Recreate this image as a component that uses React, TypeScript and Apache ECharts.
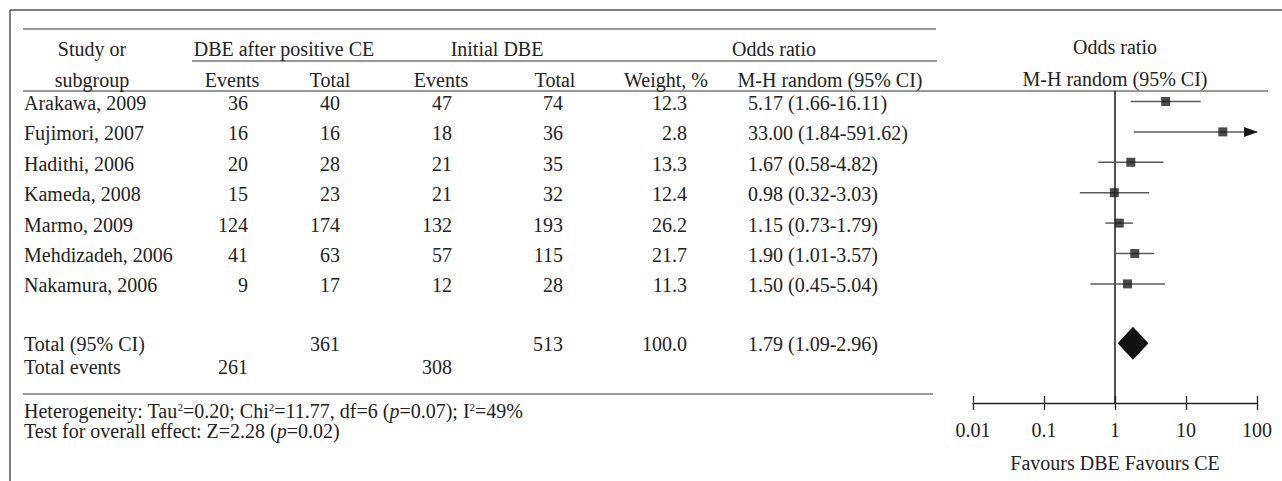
import React, { useEffect, useRef } from "react";
import * as echarts from "echarts";

const studies = [
  "Arakawa, 2009",
  "Fujimori, 2007",
  "Hadithi, 2006",
  "Kameda, 2008",
  "Marmo, 2009",
  "Mehdizadeh, 2006",
  "Nakamura, 2006",
];
const dbeEvents = [36, 16, 20, 15, 124, 41, 9];
const dbeTotal = [40, 16, 28, 23, 174, 63, 17];
const initEvents = [47, 18, 21, 21, 132, 57, 12];
const initTotal = [74, 36, 35, 32, 193, 115, 28];
const weights = [12.3, 2.8, 13.3, 12.4, 26.2, 21.7, 11.3];
const oddsRatio = [5.17, 33.0, 1.67, 0.98, 1.15, 1.9, 1.5];
const ciLow = [1.66, 1.84, 0.58, 0.32, 0.73, 1.01, 0.45];
const ciHigh = [16.11, 591.62, 4.82, 3.03, 1.79, 3.57, 5.04];

const totalDbe = 361;
const totalInit = 513;
const totalWeight = 100.0;
const pooledOR = 1.79;
const pooledLow = 1.09;
const pooledHigh = 2.96;
const eventsDbe = 261;
const eventsInit = 308;

const tickLabels = ["0.01", "0.1", "1", "10", "100"];
const xMin = 0.01;
const xMax = 100;

const FONT = "Liberation Serif";
const FS = 20;
const TXT = "#222";

export default function App() {
  const ref = useRef<HTMLDivElement>(null);

  useEffect(() => {
    document.body.style.margin = "0";
    const chart = echarts.init(ref.current!, null, { renderer: "svg" });

    const rowStart = 101.5;
    const rowStep = 30.4;
    const rowY = (i: number) => rowStart + rowStep * i;
    const totalPos = 7.95;
    const gridTop = 91;
    const axisY = 403;
    const yMin = (gridTop - rowStart) / rowStep;
    const yMax = (axisY - rowStart) / rowStep;

    const txt = (
      text: string,
      x: number,
      y: number,
      align: string = "center",
      extra: any = {}
    ) => ({
      type: "text",
      x,
      y,
      silent: true,
      style: {
        text,
        fontSize: FS,
        fontFamily: FONT,
        fill: TXT,
        align,
        textAlign: align,
        verticalAlign: "middle",
        textVerticalAlign: "middle",
        ...extra,
      },
    });
    const ln = (x1: number, y1: number, x2: number, y2: number, stroke = "#333", lw = 1.2) => ({
      type: "line",
      silent: true,
      shape: { x1, y1, x2, y2 },
      style: { stroke, lineWidth: lw },
    });

    const elements: any[] = [
      ln(10, 10, 1282, 10, "#555", 1.5),
      ln(10, 10, 10, 481, "#555", 1.5),
      ln(23, 29, 936, 29),
      ln(192, 61, 937, 61),
      ln(23, 91, 1268, 91),
      ln(23, 394, 933, 394),
      txt("Study or", 92, 49),
      txt("subgroup", 92, 80),
      txt("DBE after positive CE", 284, 49),
      txt("Initial DBE", 497, 49),
      txt("Odds ratio", 774, 49),
      txt("Events", 232, 80),
      txt("Total", 330, 80),
      txt("Events", 441, 80),
      txt("Total", 555, 80),
      txt("Weight, %", 666, 80),
      txt("M-H random (95% CI)", 830, 80),
      txt("Odds ratio", 1115, 47),
      txt("M-H random (95% CI)", 1115, 79),
      txt("Favours DBE Favours CE", 1115, 463),
    ];

    studies.forEach((s, i) => {
      const y = rowY(i) + 1.5;
      elements.push(txt(s, 24, y, "left"));
      elements.push(txt(String(dbeEvents[i]), 248, y, "right"));
      elements.push(txt(String(dbeTotal[i]), 340, y, "right"));
      elements.push(txt(String(initEvents[i]), 452, y, "right"));
      elements.push(txt(String(initTotal[i]), 563, y, "right"));
      elements.push(txt(weights[i].toFixed(1), 687, y, "right"));
      elements.push(
        txt(
          `${oddsRatio[i].toFixed(2)} (${ciLow[i].toFixed(2)}-${ciHigh[i].toFixed(2)})`,
          748,
          y,
          "left"
        )
      );
    });

    const ty = rowY(totalPos) + 0.5;
    elements.push(txt("Total (95% CI)", 24, ty, "left"));
    elements.push(txt(String(totalDbe), 340, ty, "right"));
    elements.push(txt(String(totalInit), 563, ty, "right"));
    elements.push(txt(totalWeight.toFixed(1), 687, ty, "right"));
    elements.push(
      txt(`${pooledOR.toFixed(2)} (${pooledLow.toFixed(2)}-${pooledHigh.toFixed(2)})`, 748, ty, "left")
    );
    const ey = 367;
    elements.push(txt("Total events", 24, ey, "left"));
    elements.push(txt(String(eventsDbe), 248, ey, "right"));
    elements.push(txt(String(eventsInit), 452, ey, "right"));

    const rich = {
      sup: { fontSize: 11, fontFamily: FONT, fill: TXT, verticalAlign: "top" },
      i: { fontSize: FS, fontFamily: FONT, fontStyle: "italic", fill: TXT },
      n: { fontSize: FS, fontFamily: FONT, fill: TXT },
    };
    elements.push(
      txt(
        "{n|Heterogeneity: Tau}{sup|2}{n|=0.20; Chi}{sup|2}{n|=11.77, df=6 (}{i|p}{n|=0.07); I}{sup|2}{n|=49%}",
        24,
        411,
        "left",
        { rich }
      )
    );
    elements.push(
      txt("{n|Test for overall effect: Z=2.28 (}{i|p}{n|=0.02)}", 24, 431, "left", { rich })
    );

    const ciData = studies.map((_, i) => [ciLow[i], ciHigh[i], i]);
    const pointData = studies.map((_, i) => [oddsRatio[i], i]);
    const diamondData = [[pooledLow, pooledOR, pooledHigh, totalPos]];

    const baseAxis = {
      type: "log",
      logBase: 10,
      min: xMin,
      max: xMax,
      position: "bottom",
      splitLine: { show: false },
      minorTick: { show: false },
    };

    const option: any = {
      animation: false,
      grid: [
        { left: 973, right: 1282 - 1257, top: gridTop, bottom: 481 - axisY, containLabel: false },
        { left: 973, right: 1282 - 1257, top: axisY - 8, bottom: 481 - axisY, containLabel: false },
      ],
      xAxis: [
        {
          ...baseAxis,
          gridIndex: 0,
          axisLine: { show: true, onZero: false, lineStyle: { color: "#222", width: 1.3 } },
          axisTick: { show: true, inside: false, length: 7, lineStyle: { color: "#222", width: 1.3 } },
          axisLabel: {
            show: true,
            margin: 17,
            color: TXT,
            fontSize: FS,
            fontFamily: FONT,
            formatter: (v: number, idx: number) => tickLabels[idx] ?? String(v),
          },
        },
        {
          ...baseAxis,
          gridIndex: 1,
          axisLine: { show: false, onZero: false },
          axisTick: { show: true, inside: true, length: 7, lineStyle: { color: "#222", width: 1.3 } },
          axisLabel: { show: false },
        },
      ],
      yAxis: [
        { type: "value", gridIndex: 0, inverse: true, min: yMin, max: yMax, show: false },
        { type: "value", gridIndex: 1, min: 0, max: 1, show: false },
      ],
      graphic: { elements },
      series: [
        {
          type: "custom",
          clip: false,
          z: 3,
          encode: { x: [0, 1], y: 2 },
          data: ciData,
          renderItem: (params: any, api: any) => {
            const lo = api.value(0);
            const hi = api.value(1);
            const y = api.value(2);
            const p1 = api.coord([lo, y]);
            const p2 = api.coord([Math.min(hi, xMax), y]);
            const children: any[] = [
              {
                type: "line",
                shape: { x1: p1[0], y1: p1[1], x2: p2[0], y2: p2[1] },
                style: { stroke: "#5a5a5a", lineWidth: 1.5 },
              },
            ];
            if (hi > xMax) {
              children.push({
                type: "polygon",
                shape: {
                  points: [
                    [p2[0] + 1, p2[1]],
                    [p2[0] - 13, p2[1] - 5],
                    [p2[0] - 13, p2[1] + 5],
                  ],
                },
                style: { fill: "#1a1a1a" },
              });
            }
            return { type: "group", children };
          },
        },
        {
          type: "scatter",
          z: 5,
          symbol: "rect",
          symbolSize: 9,
          itemStyle: { color: "#1e1e1e" },
          data: pointData,
          markLine: {
            silent: true,
            symbol: ["none", "none"],
            label: { show: false },
            lineStyle: { color: "#1a1a1a", width: 1.5, type: "solid" },
            data: [{ xAxis: 1 }],
            z: 2,
          },
        },
        {
          type: "custom",
          clip: false,
          z: 6,
          encode: { x: [0, 1, 2], y: 3 },
          data: diamondData,
          renderItem: (params: any, api: any) => {
            const y = api.value(3);
            const a = api.coord([api.value(0), y]);
            const m = api.coord([api.value(1), y]);
            const b = api.coord([api.value(2), y]);
            const h = 16.5;
            return {
              type: "polygon",
              shape: { points: [a, [m[0], m[1] - h], b, [m[0], m[1] + h]] },
              style: { fill: "#111" },
            };
          },
        },
      ],
    };

    chart.setOption(option);
    return () => chart.dispose();
  }, []);

  return <div ref={ref} style={{ width: 1282, height: 481 }} />;
}
